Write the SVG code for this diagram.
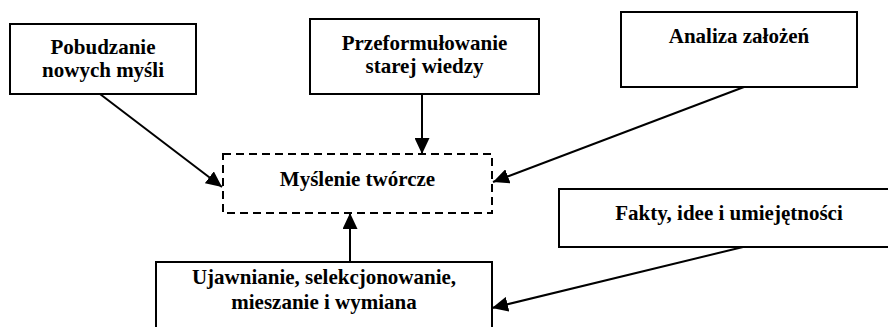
<svg xmlns="http://www.w3.org/2000/svg" width="888" height="327" viewBox="0 0 888 327">
  <defs>
    <marker id="arr" markerUnits="userSpaceOnUse" markerWidth="16" markerHeight="15" refX="16" refY="7.5" orient="auto">
      <path d="M0,0 L16,7.5 L0,15 Z" fill="#000"/>
    </marker>
    <style>
      .box { fill: #fff; stroke: #000; stroke-width: 2; }
      .dash { fill: #fff; stroke: #000; stroke-width: 2; stroke-dasharray: 8 5; }
      .lbl { font-family: "Liberation Serif", "Times New Roman", serif; font-weight: bold; font-size: 21px; fill: #000; text-anchor: middle; }
      .con { fill: none; stroke: #000; stroke-width: 2; marker-end: url(#arr); }
    </style>
  </defs>
  <rect width="888" height="327" fill="#fff"/>

  <g id="connectors">
    <line class="con" x1="100" y1="94" x2="222" y2="187"/>
    <line class="con" x1="422" y1="94" x2="422" y2="154"/>
    <line class="con" x1="744" y1="87" x2="493" y2="182"/>
    <line class="con" x1="350" y1="262" x2="350" y2="213"/>
    <line class="con" x1="743" y1="247" x2="492" y2="308"/>
  </g>

  <g id="pobudzanie">
    <rect class="box" x="10" y="24" width="186" height="70"/>
    <text class="lbl" x="103" y="54">Pobudzanie</text>
    <text class="lbl" x="103" y="77">nowych myśli</text>
  </g>

  <g id="przeformulowanie">
    <rect class="box" x="310" y="19" width="229" height="75"/>
    <text class="lbl" x="424.5" y="50">Przeformułowanie</text>
    <text class="lbl" x="424.5" y="73">starej wiedzy</text>
  </g>

  <g id="analiza">
    <rect class="box" x="621" y="12" width="236" height="75"/>
    <text class="lbl" x="739" y="43">Analiza założeń</text>
  </g>

  <g id="myslenie">
    <rect class="dash" x="223" y="154" width="269" height="59"/>
    <text class="lbl" x="357.5" y="186">Myślenie twórcze</text>
  </g>

  <g id="fakty">
    <rect class="box" x="559" y="189" width="340" height="58"/>
    <text class="lbl" x="729" y="220">Fakty, idee i umiejętności</text>
  </g>

  <g id="ujawnianie">
    <rect class="box" x="156" y="262" width="336" height="80"/>
    <text class="lbl" x="324" y="284">Ujawnianie, selekcjonowanie,</text>
    <text class="lbl" x="324" y="309">mieszanie i wymiana</text>
  </g>
</svg>
